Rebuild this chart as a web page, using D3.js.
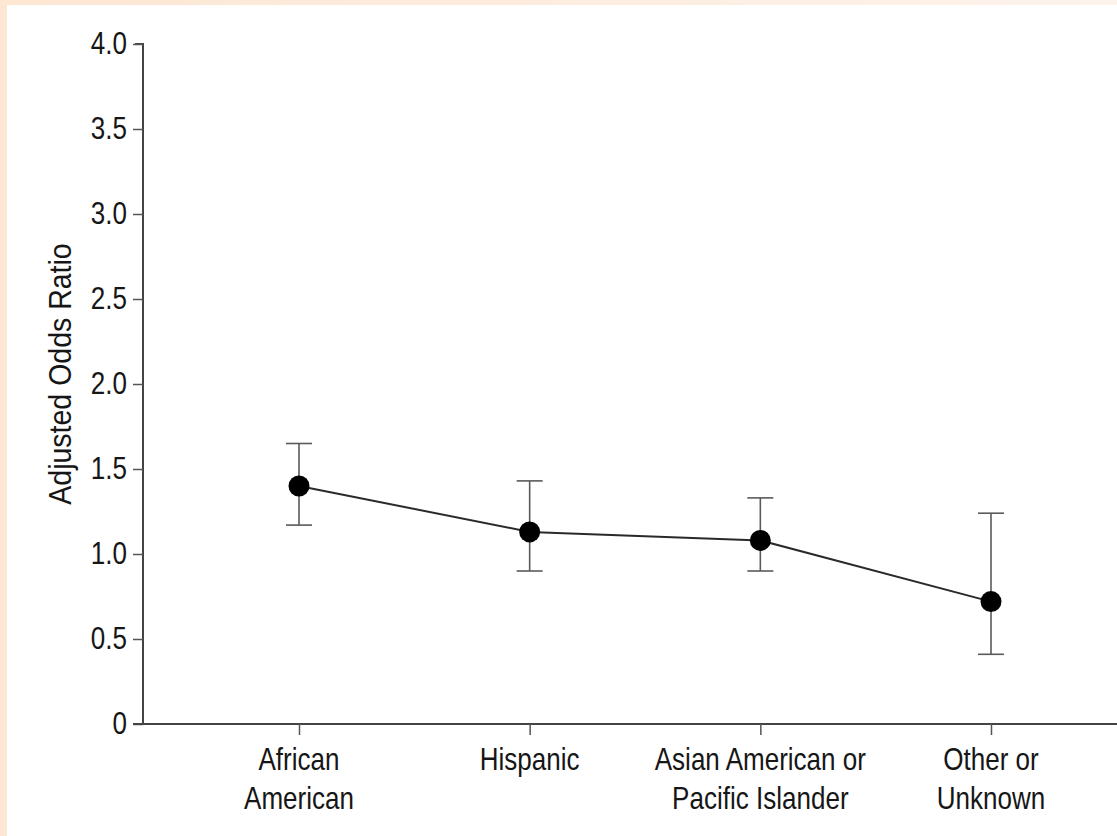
<!DOCTYPE html>
<html lang="en">
<head>
  <meta charset="UTF-8">
  <title>Adjusted Odds Ratio by Race/Ethnicity</title>
  <script src="https://d3js.org/d3.v7.min.js"></script>
  <style>
    body { margin: 0; background: #fff; }
    text { font-family: "Liberation Sans", Arial, sans-serif; fill: #161616; }
  </style>
</head>
<body>
  <svg id="chart" width="1117" height="836"></svg>

  <script>
    // data
    const categories = ["African American", "Hispanic", "Asian American or Pacific Islander", "Other or Unknown"];
    const categoryLines = [["African", "American"], ["Hispanic"], ["Asian American or", "Pacific Islander"], ["Other or", "Unknown"]];
    const oddsRatio = [1.40, 1.13, 1.08, 0.72];
    const ciLower = [1.17, 0.90, 0.90, 0.41];
    const ciUpper = [1.65, 1.43, 1.33, 1.24];
    const yTicks = [0, 0.5, 1.0, 1.5, 2.0, 2.5, 3.0, 3.5, 4.0];

    const svg = d3.select("#chart");
    const W = 1117, H = 836;
    const squeeze = 0.84; // the original uses a condensed face

    // faint peach border from the scanned page
    svg.append("rect").attr("width", W).attr("height", H).attr("fill", "#fde6d2");
    const grad = svg.append("defs").append("linearGradient").attr("id", "topfade");
    grad.append("stop").attr("offset", "0%").attr("stop-color", "#fde6d2");
    grad.append("stop").attr("offset", "100%").attr("stop-color", "#fdf3ec");
    svg.append("rect").attr("x", 0).attr("y", 0).attr("width", W).attr("height", 5).attr("fill", "url(#topfade)");
    svg.append("rect").attr("x", 7).attr("y", 5).attr("width", W - 7).attr("height", H - 5).attr("fill", "#fff");

    const x0 = 143, yTop = 44, yBottom = 724;

    const x = d3.scalePoint().domain(categories).range([299, 991]);
    const y = d3.scaleLinear().domain([0, 4]).range([yBottom, yTop]);

    // y axis
    const yAxis = svg.append("g")
      .attr("transform", `translate(${x0},0)`)
      .call(d3.axisLeft(y).tickValues(yTicks).tickSize(10).tickPadding(6)
        .tickFormat(d => d === 0 ? "0" : d3.format(".1f")(d)));
    yAxis.select(".domain").attr("d", `M-8,${yTop}H0V${yBottom}`).attr("stroke", "#444").attr("stroke-width", 2);
    yAxis.selectAll(".tick line").attr("stroke", "#555").attr("stroke-width", 1.5);
    yAxis.selectAll(".tick text")
      .attr("font-size", 31)
      .attr("fill", "#161616")
      .attr("x", -16 / squeeze)
      .attr("transform", `scale(${squeeze},1)`);

    // x axis
    const xAxis = svg.append("g")
      .attr("transform", `translate(0,${yBottom})`)
      .call(d3.axisBottom(x).tickSize(11).tickFormat(""));
    xAxis.select(".domain").attr("d", `M${x0 - 10},0H${W}`).attr("stroke", "#444").attr("stroke-width", 2);
    xAxis.selectAll(".tick line").attr("stroke", "#555").attr("stroke-width", 1.5);

    // category labels on two lines
    const labels = svg.append("g").selectAll("text")
      .data(categories)
      .join("text")
      .attr("transform", d => `translate(${x(d)},770) scale(${squeeze},1)`)
      .attr("text-anchor", "middle")
      .attr("font-size", 31);
    labels.selectAll("tspan")
      .data((d, i) => categoryLines[i])
      .join("tspan")
      .attr("x", 0)
      .attr("dy", (d, i) => i === 0 ? 0 : 39)
      .text(d => d);

    // y axis title
    svg.append("text")
      .attr("transform", `translate(71,374) rotate(-90) scale(0.92,1)`)
      .attr("text-anchor", "middle")
      .attr("font-size", 31)
      .text("Adjusted Odds Ratio");

    const rows = categories.map((c, i) => ({ c, v: oddsRatio[i], lo: ciLower[i], hi: ciUpper[i] }));

    // error bars
    const eb = svg.append("g").attr("stroke", "#5a5a5a").attr("stroke-width", 1.6);
    eb.selectAll("line.v").data(rows).join("line").attr("class", "v")
      .attr("x1", d => x(d.c)).attr("x2", d => x(d.c))
      .attr("y1", d => y(d.lo)).attr("y2", d => y(d.hi));
    eb.selectAll("line.hi").data(rows).join("line").attr("class", "hi")
      .attr("x1", d => x(d.c) - 13).attr("x2", d => x(d.c) + 13)
      .attr("y1", d => y(d.hi)).attr("y2", d => y(d.hi));
    eb.selectAll("line.lo").data(rows).join("line").attr("class", "lo")
      .attr("x1", d => x(d.c) - 13).attr("x2", d => x(d.c) + 13)
      .attr("y1", d => y(d.lo)).attr("y2", d => y(d.lo));

    // connecting line
    const line = d3.line().x(d => x(d.c)).y(d => y(d.v));
    svg.append("path").datum(rows)
      .attr("d", line)
      .attr("fill", "none")
      .attr("stroke", "#2a2a2a")
      .attr("stroke-width", 2);

    // points
    svg.append("g").selectAll("circle")
      .data(rows)
      .join("circle")
      .attr("cx", d => x(d.c))
      .attr("cy", d => y(d.v))
      .attr("r", 10.5)
      .attr("fill", "#000");
  </script>
</body>
</html>
